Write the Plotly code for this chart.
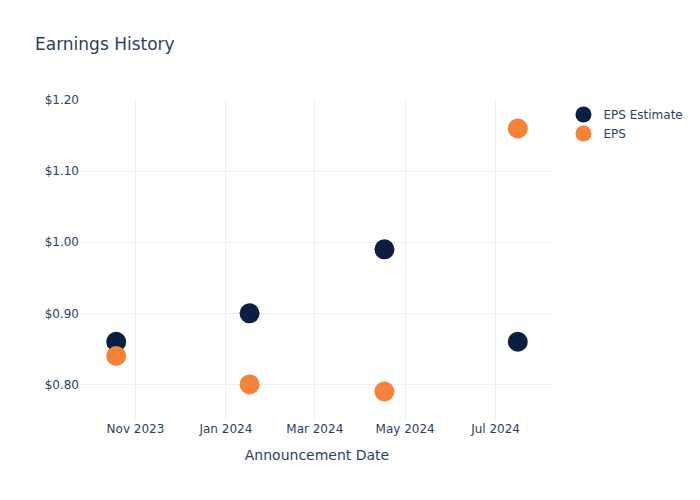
import plotly.graph_objects as go

dates = ["2023-10-19", "2024-01-17", "2024-04-17", "2024-07-16"]
eps_estimate = [0.86, 0.90, 0.99, 0.86]
eps_actual = [0.84, 0.80, 0.79, 1.16]

fig = go.Figure()
fig.add_trace(go.Scatter(x=dates, y=eps_estimate, mode="markers", name="EPS Estimate",
                         marker=dict(color="#0b1f42", size=20)))
fig.add_trace(go.Scatter(x=dates, y=eps_actual, mode="markers", name="EPS",
                         marker=dict(color="#f58237", size=20)))
fig.update_layout(
    template="plotly_white",
    width=700, height=500,
    font=dict(family="DejaVu Sans"),
    title=dict(text="Earnings History"),
    xaxis=dict(title=dict(text="Announcement Date")),
    yaxis=dict(tickformat="$.2f"),
)
fig.write_html("out.html")
